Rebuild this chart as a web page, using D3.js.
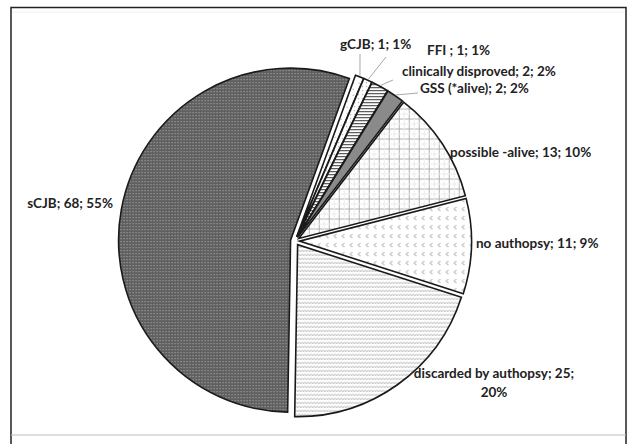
<!DOCTYPE html>
<html>
<head>
<meta charset="utf-8">
<script src="https://cdn.jsdelivr.net/npm/d3@7/dist/d3.min.js"></script>
<style>
  body { margin: 0; background: #fff; }
  text { font-family: Lato, "Open Sans", sans-serif; font-weight: bold; font-size: 13.5px; fill: #222; }
</style>
</head>
<body>
<div id="chart"></div>
<script>
// data, clockwise from the first slice
var categories = ["gCJB", "FFI ", "clinically disproved", "GSS (*alive)", "possible -alive", "no authopsy", "discarded by authopsy", "sCJB"];
var counts = [1, 1, 2, 2, 13, 11, 25, 68];
var percents = ["1%", "1%", "2%", "2%", "10%", "9%", "20%", "55%"];

// label placement (x, baseline y, anchor) and leader-line ends
var labelPos = [[340, 49, "start"], [427, 55, "start"], [402, 76, "start"], [420, 93, "start"],
                [450, 157, "start"], [476, 248, "start"], [494, 378, "middle"], [113, 208, "end"]];
var leaderEnd = [[360, 54], [386, 57], [393, 80], [418, 93], null, null, null, null];
var fills = ["url(#pDots)", "url(#pDots2)", "url(#pStripes)", "#8a8a8a", "url(#pGrid)", "url(#pChev)", "url(#pWave)", "url(#pDark)"];

var W = 634, H = 444;
var cx = 295, cy = 241, R = 172, explode = 4.5;

var svg = d3.select("#chart").append("svg").attr("width", W).attr("height", H);
svg.append("rect").attr("width", W).attr("height", H).attr("fill", "#fff");

// frame
svg.append("rect").attr("x", 11).attr("y", 7.5).attr("width", 615).attr("height", 440)
  .attr("fill", "none").attr("stroke", "#222").attr("stroke-width", 1.5);
svg.append("line").attr("x1", 11).attr("x2", 626).attr("y1", 435).attr("y2", 435)
  .attr("stroke", "#bbb").attr("stroke-width", 1.2);
svg.append("line").attr("x1", 12).attr("x2", 625).attr("y1", 12).attr("y2", 12)
  .attr("stroke", "#f2f2f2").attr("stroke-width", 1);

// patterns
var defs = svg.append("defs");
function pat(id, w, h, bg) {
  var p = defs.append("pattern").attr("id", id).attr("patternUnits", "userSpaceOnUse")
    .attr("width", w).attr("height", h);
  p.append("rect").attr("width", w).attr("height", h).attr("fill", bg);
  return p;
}
var p = pat("pDark", 3, 3, "#606060");
p.append("rect").attr("x", 1).attr("y", 1).attr("width", 1).attr("height", 1).attr("fill", "#b5b5b5");
p = pat("pWave", 6, 4, "#fff");
p.append("path").attr("d", "M0,3 L1.5,1.5 L3,3 L4.5,1.5 L6,3").attr("fill", "none").attr("stroke", "#9a9a9a").attr("stroke-width", 0.8);
p = pat("pChev", 8, 9, "#fff");
p.append("path").attr("d", "M5,2 L2.5,4 L5,6").attr("fill", "none").attr("stroke", "#8a8a8a").attr("stroke-width", 0.8);
p = pat("pGrid", 10, 10, "#fff");
p.append("path").attr("d", "M0,0.5 H10 M0.5,0 V10").attr("stroke", "#b0b0b0").attr("stroke-width", 1);
p.append("path").attr("d", "M0,5.5 H10 M5.5,0 V10").attr("stroke", "#dcdcdc").attr("stroke-width", 1).attr("stroke-dasharray", "1,1");
p = pat("pStripes", 3, 3, "#fff");
p.append("rect").attr("width", 3).attr("height", 1.2).attr("fill", "#555");
p = pat("pDots", 6, 6, "#fff");
p.append("rect").attr("x", 2).attr("y", 2).attr("width", 1).attr("height", 1).attr("fill", "#999");
p = pat("pDots2", 4, 4, "#fff");
p.append("rect").attr("x", 1).attr("y", 1).attr("width", 1.2).attr("height", 1.2).attr("fill", "#aaa");

var start = 20 * Math.PI / 180;
var pie = d3.pie().sort(null).startAngle(start).endAngle(start + 2 * Math.PI);
var arcs = pie(counts);
var arc = d3.arc().innerRadius(0).outerRadius(R);

var g = svg.append("g").attr("transform", "translate(" + cx + "," + cy + ")");
g.selectAll("path.slice").data(arcs).enter().append("path")
  .attr("class", "slice")
  .attr("transform", function(d) {
    var a = (d.startAngle + d.endAngle) / 2;
    return "translate(" + (explode * Math.sin(a)) + "," + (-explode * Math.cos(a)) + ")";
  })
  .attr("d", arc)
  .attr("fill", function(d, i) { return fills[i]; })
  .attr("stroke", "#1a1a1a").attr("stroke-width", 1.6).attr("stroke-linejoin", "miter");

// leader lines from slice rim to label
arcs.forEach(function(d, i) {
  if (!leaderEnd[i]) return;
  var a = (d.startAngle + d.endAngle) / 2, rr = R + explode + 1;
  svg.append("line")
    .attr("x1", cx + rr * Math.sin(a)).attr("y1", cy - rr * Math.cos(a))
    .attr("x2", leaderEnd[i][0]).attr("y2", leaderEnd[i][1])
    .attr("stroke", "#a8a8a8").attr("stroke-width", 1);
});

// labels
categories.forEach(function(c, i) {
  var t = svg.append("text").attr("x", labelPos[i][0]).attr("y", labelPos[i][1])
    .attr("text-anchor", labelPos[i][2]);
  if (i === 6) {
    t.append("tspan").attr("x", labelPos[i][0]).text(c + "; " + counts[i] + ";");
    t.append("tspan").attr("x", labelPos[i][0]).attr("dy", 19).text(percents[i]);
  } else {
    t.text(c + "; " + counts[i] + "; " + percents[i]);
  }
});
</script>
</body>
</html>
